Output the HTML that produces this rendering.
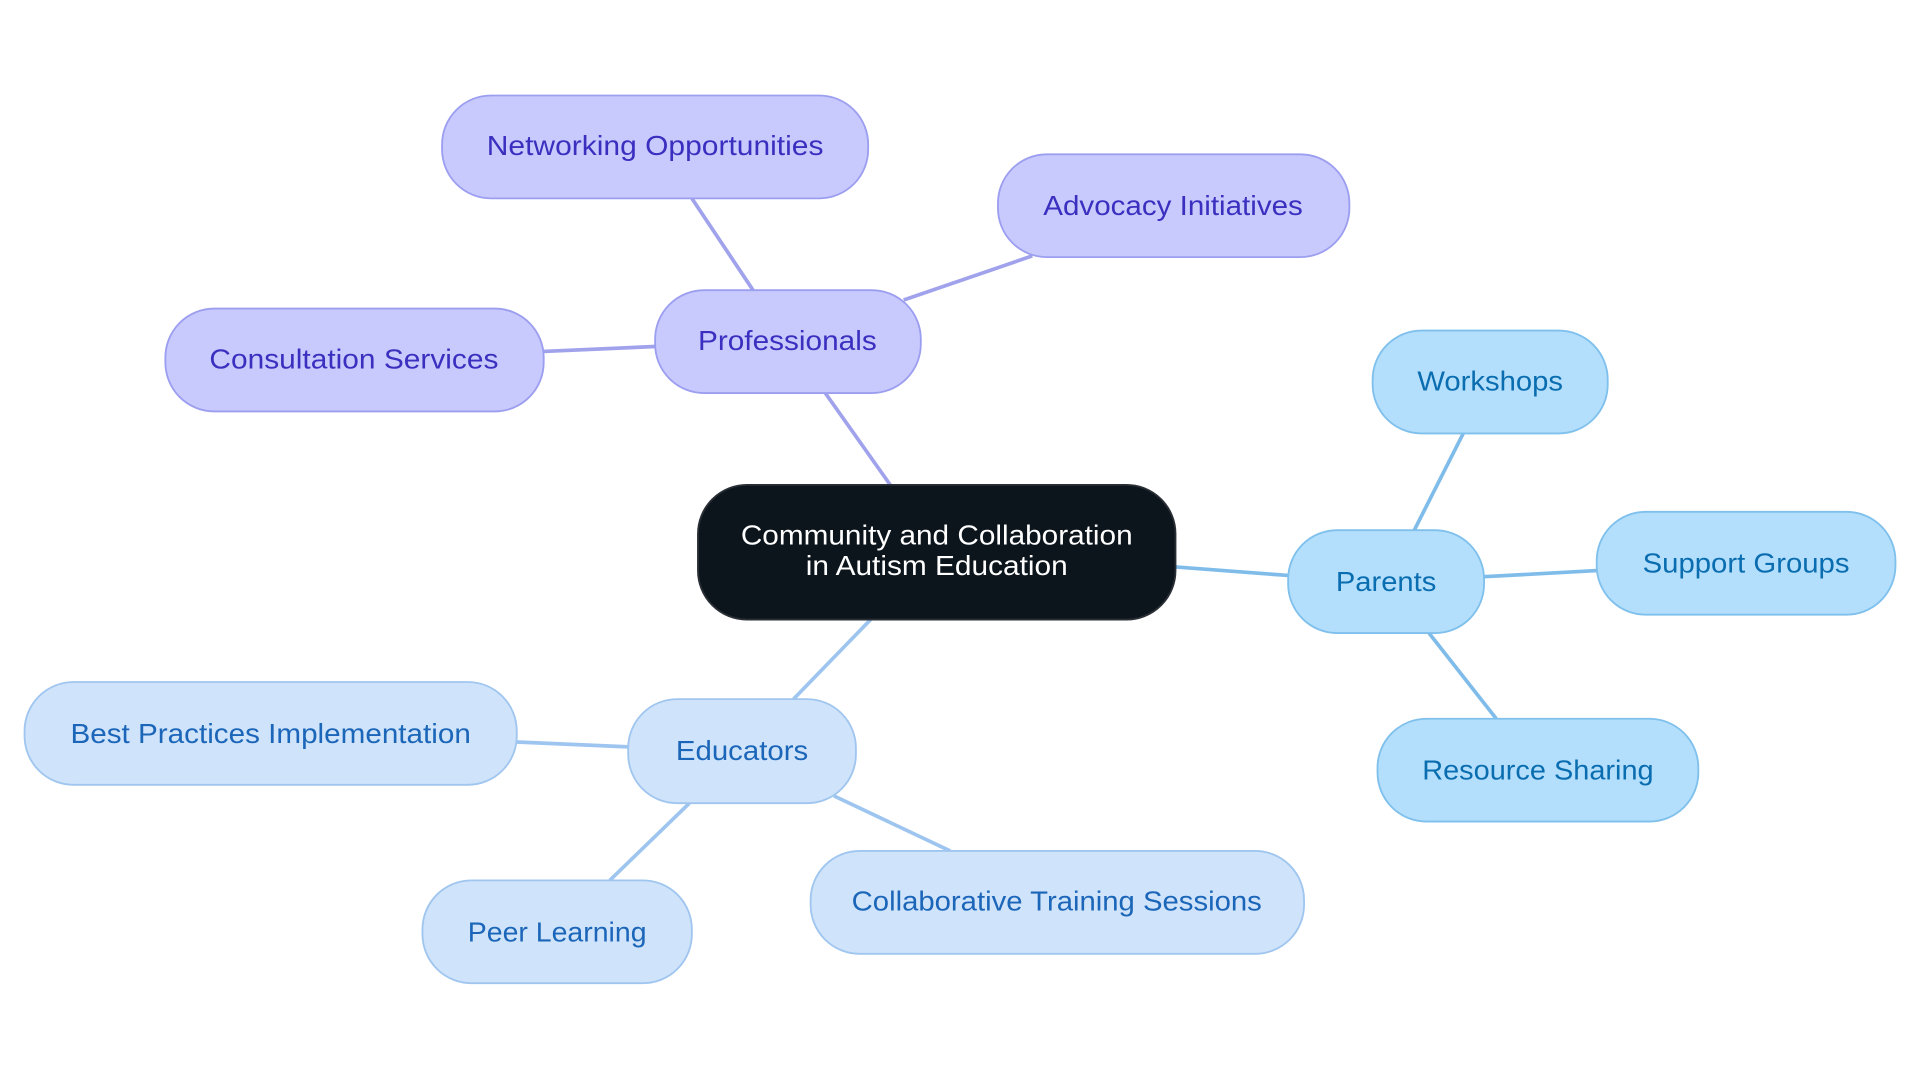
<!DOCTYPE html>
<html><head><meta charset="utf-8"><style>
html,body{margin:0;padding:0;background:#fff;width:1920px;height:1083px;overflow:hidden}
svg{display:block}
text{font-family:"Liberation Sans",sans-serif;font-size:23px;text-anchor:middle;dominant-baseline:central}
</style></head><body>
<svg width="1920" height="1083" viewBox="0 0 1568 884.5" xmlns="http://www.w3.org/2000/svg">
<g stroke-width="3" fill="none">
<g stroke="#a0a2ec">
<line x1="727" y1="396" x2="674" y2="321"/>
<line x1="615" y1="237" x2="565" y2="162"/>
<line x1="738" y1="245" x2="843" y2="209"/>
<line x1="444" y1="287" x2="535" y2="283"/>
</g>
<g stroke="#7fbce9">
<line x1="960" y1="463" x2="1052" y2="470"/>
<line x1="1155" y1="433" x2="1195" y2="354"/>
<line x1="1212" y1="471" x2="1304" y2="466"/>
<line x1="1167" y1="517" x2="1222" y2="587"/>
</g>
<g stroke="#9ec5ef">
<line x1="711" y1="506" x2="648" y2="571"/>
<line x1="422" y1="606" x2="513" y2="610"/>
<line x1="563" y1="656" x2="498" y2="719"/>
<line x1="681" y1="650" x2="776" y2="695"/>
</g>
</g>
<rect x="570" y="396" width="390" height="110" rx="40" fill="#0d151c" stroke="#2a2f36" stroke-width="1.5"/>
<text x="765" y="437" fill="#fff" textLength="320" lengthAdjust="spacingAndGlyphs">Community and Collaboration</text>
<text x="765" y="462" fill="#fff" textLength="214" lengthAdjust="spacingAndGlyphs">in Autism Education</text>
<g fill="#c8cafd" stroke="#9c9ef0" stroke-width="1.5">
<rect x="535" y="237" width="217" height="84" rx="40"/>
<rect x="361" y="78" width="348" height="84" rx="40"/>
<rect x="815" y="126" width="287" height="84" rx="40"/>
<rect x="135" y="252" width="309" height="84" rx="40"/>
</g>
<g fill="#3a2fbf">
<text x="643" y="278" textLength="146" lengthAdjust="spacingAndGlyphs">Professionals</text>
<text x="535" y="119" textLength="275" lengthAdjust="spacingAndGlyphs">Networking Opportunities</text>
<text x="958" y="168" textLength="212" lengthAdjust="spacingAndGlyphs">Advocacy Initiatives</text>
<text x="289" y="293" textLength="236" lengthAdjust="spacingAndGlyphs">Consultation Services</text>
</g>
<g fill="#b3dffc" stroke="#7fc0ec" stroke-width="1.5">
<rect x="1052" y="433" width="160" height="84" rx="40"/>
<rect x="1121" y="270" width="192" height="84" rx="40"/>
<rect x="1304" y="418" width="244" height="84" rx="40"/>
<rect x="1125" y="587" width="262" height="84" rx="40"/>
</g>
<g fill="#0a6db0">
<text x="1132" y="475" textLength="82" lengthAdjust="spacingAndGlyphs">Parents</text>
<text x="1217" y="311" textLength="119" lengthAdjust="spacingAndGlyphs">Workshops</text>
<text x="1426" y="460" textLength="169" lengthAdjust="spacingAndGlyphs">Support Groups</text>
<text x="1256" y="629" textLength="189" lengthAdjust="spacingAndGlyphs">Resource Sharing</text>
</g>
<g fill="#cfe3fb" stroke="#a0c6ef" stroke-width="1.5">
<rect x="513" y="571" width="186" height="85" rx="40"/>
<rect x="20" y="557" width="402" height="84" rx="40"/>
<rect x="345" y="719" width="220" height="84" rx="40"/>
<rect x="662" y="695" width="403" height="84" rx="40"/>
</g>
<g fill="#1b66b8">
<text x="606" y="613" textLength="108" lengthAdjust="spacingAndGlyphs">Educators</text>
<text x="221" y="599" textLength="327" lengthAdjust="spacingAndGlyphs">Best Practices Implementation</text>
<text x="455" y="761" textLength="146" lengthAdjust="spacingAndGlyphs">Peer Learning</text>
<text x="863" y="736" textLength="335" lengthAdjust="spacingAndGlyphs">Collaborative Training Sessions</text>
</g>
</svg>
</body></html>
